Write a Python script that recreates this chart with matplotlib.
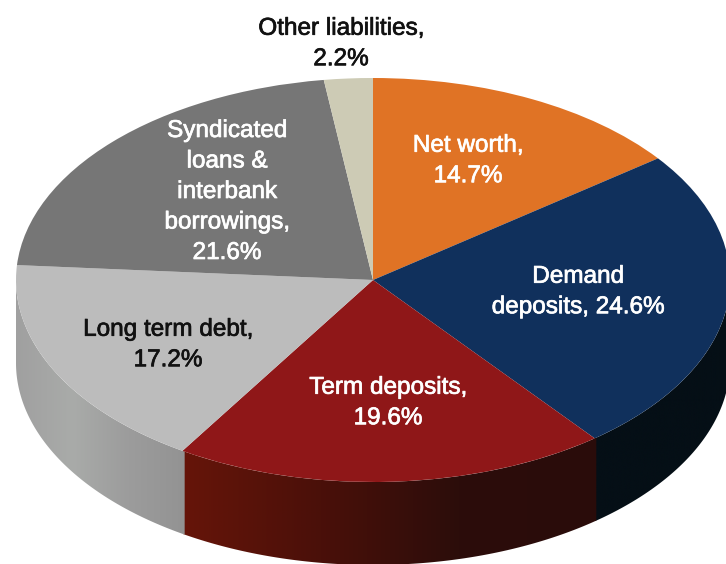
import numpy as np
import matplotlib
matplotlib.use('Agg')
import matplotlib.pyplot as plt
import matplotlib.patheffects as pe
from matplotlib.colors import LinearSegmentedColormap
from matplotlib.patches import Polygon

# Liabilities share, clockwise from 12 o'clock
labels = ['Net worth,\n14.7%', 'Demand\ndeposits, 24.6%', 'Term deposits,\n19.6%',
          'Long term debt,\n17.2%', 'Syndicated\nloans &\ninterbank\nborrowings,\n21.6%',
          'Other liabilities,\n2.2%']
values = [14.7, 24.6, 19.6, 17.2, 21.6, 2.2]
colors = ['#e07325', '#10305c', '#8f1718', '#bcbcbc', '#767676', '#cdcbb5']
text_colors = ['white', 'white', 'white', '#111111', 'white', '#111111']

# side wall shading of each slice, left to right
side_ramps = [['#e07325', '#e07325'],
              ['#050f16', '#050f16'],
              ['#661509', '#4a1009', '#2c0d0b', '#2a0c0a'],
              ['#a0a0a0', '#a9aba9', '#9c9c9c', '#939393'],
              ['#767676', '#767676'],
              ['#cdcbb5', '#cdcbb5']]

# label centres in pixels
label_px = [(468, 161), (578, 292), (388, 403), (168, 345), (227, 192), (341, 44)]

W, H = 726, 564
cx, cy = 373, 280
rx, ry = 357, 202
depth = 83 / ry


def to_data(px, py):
    return (px - cx) / rx, (cy - py) / ry


fig, ax = plt.subplots(figsize=(W / 100, H / 100), dpi=100)
fig.subplots_adjust(0, 0, 1, 1)

ax.pie(values, colors=colors, startangle=90, counterclock=False, radius=1,
       wedgeprops={'linewidth': 0, 'zorder': 3})

# side wall, only the front half shows
edges = np.cumsum([0] + values) / 100 * 360
gradient = np.linspace(0, 1, 256).reshape(1, -1)
for i in range(len(values)):
    a0, a1 = max(edges[i], 90), min(edges[i + 1], 270)
    if a1 <= a0:
        continue
    # small overlap so no white seam shows between the slices
    t = np.radians(np.linspace(a0 - 0.2, a1 + 0.2, 120))
    x = np.sin(t)
    y = np.cos(t)
    outline = np.vstack([np.column_stack([x, y]),
                         np.column_stack([x[::-1], y[::-1] - depth])])
    cmap = LinearSegmentedColormap.from_list('side%d' % i, side_ramps[i])
    im = ax.imshow(gradient, cmap=cmap, aspect='auto', zorder=2,
                   extent=(x.min(), x.max(), y.min() - depth, y.max()))
    im.set_clip_path(Polygon(outline, closed=True, transform=ax.transData))

ax.set_aspect('auto')
ax.set_xlim(to_data(0, 0)[0], to_data(W, 0)[0])
ax.set_ylim(to_data(0, H)[1], to_data(0, 0)[1])

for text, c, (px, py) in zip(labels, text_colors, label_px):
    x, y = to_data(px, py)
    ax.text(x, y, text, color=c, ha='center', va='center', family='Liberation Sans',
            fontsize=17.5, linespacing=1.5, zorder=5,
            path_effects=[pe.withStroke(linewidth=0.5, foreground=c)])

plt.savefig('out.png', dpi=100)
